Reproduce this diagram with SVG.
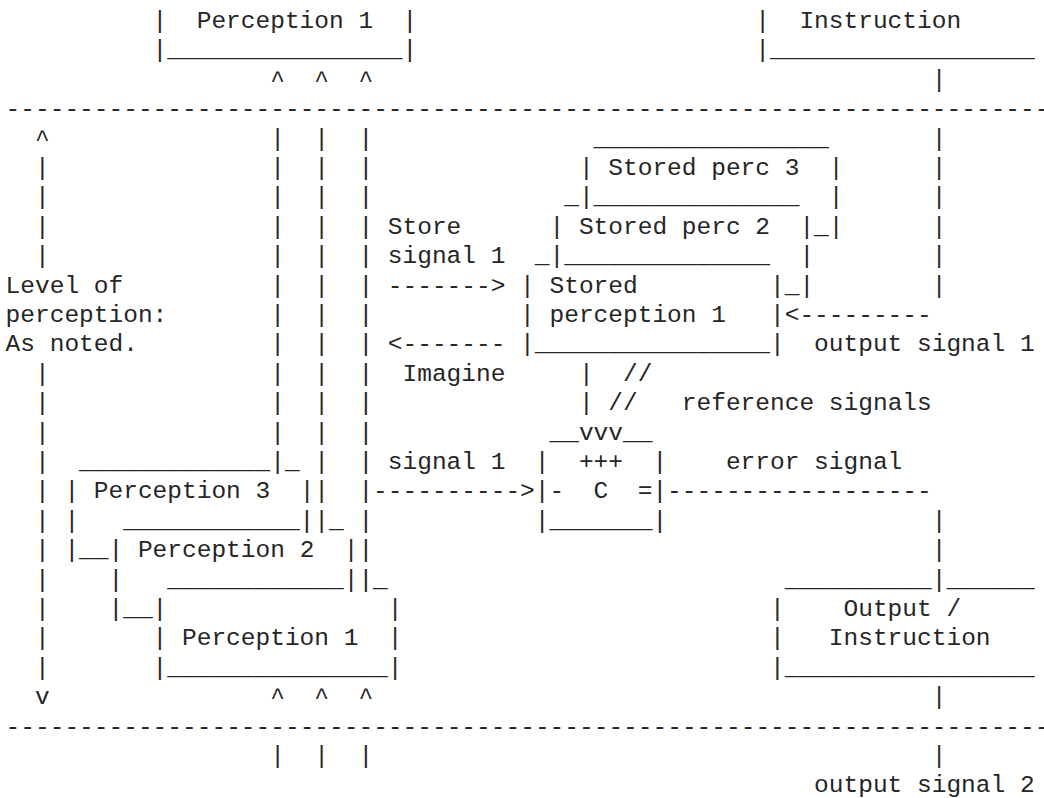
<svg xmlns="http://www.w3.org/2000/svg" width="1044" height="798" viewBox="0 0 1044 798" xml:space="preserve">
<style>
  /* monospace grid: column c at x = 5.6 + 14.7*c, row r baseline at y = 28 + 29.4*r */
  text { font-family: "Liberation Mono", "Courier New", "DejaVu Sans Mono", monospace; font-size: 24.5px; fill: #262626; white-space: pre; }
</style>
<rect width="1044" height="798" fill="#ffffff"/>

<!-- higher-level boxes above the upper level line -->
<g id="perception-1-upper">
  <text x="152.6" y="28">|  Perception 1  |</text>
  <text x="152.6" y="57.4">|________________|</text>
</g>
<g id="instruction-upper">
  <text x="755.3" y="28">|  Instruction</text>
  <text x="755.3" y="57.4">|__________________</text>
</g>

<!-- memory: stored perceptions -->
<g id="stored-perc-3">
  <text x="593.6" y="145.6">________________</text>
  <text x="578.9" y="175">| Stored perc 3  |</text>
  <text x="578.9" y="204.4">|______________  |</text>
  <text x="814.1" y="233.8">_|</text>
</g>
<g id="stored-perc-2">
  <text x="564.2" y="204.4">_</text>
  <text x="549.5" y="233.8">| Stored perc 2  |</text>
  <text x="549.5" y="263.2">|______________  |</text>
  <text x="784.7" y="292.6">_|</text>
</g>
<g id="stored-perception-1">
  <text x="534.8" y="263.2">_</text>
  <text x="520.1" y="292.6">| Stored         |</text>
  <text x="520.1" y="322">| perception 1   |</text>
  <text x="520.1" y="351.4">|________________|</text>
</g>

<!-- comparator -->
<g id="comparator">
  <text x="549.5" y="439.6">__vvv__</text>
  <text x="534.8" y="469">|  +++  |</text>
  <text x="534.8" y="498.4">|-  C  =|</text>
  <text x="534.8" y="527.8">|_______|</text>
</g>

<!-- stacked perception boxes of this level -->
<g id="perception-3">
  <text x="79.1" y="469">_____________</text>
  <text x="64.4" y="498.4">| Perception 3  |</text>
  <text x="64.4" y="527.8">|</text>
  <text x="299.6" y="527.8">|</text>
  <text x="64.4" y="557.2">|__</text>
</g>
<g id="perception-2">
  <text x="123.2" y="527.8">____________</text>
  <text x="108.5" y="557.2">| Perception 2  |</text>
  <text x="108.5" y="586.6">|</text>
  <text x="343.7" y="586.6">|</text>
  <text x="108.5" y="616">|__</text>
</g>
<g id="perception-1">
  <text x="167.3" y="586.6">____________</text>
  <text x="152.6" y="616">|</text>
  <text x="387.8" y="616">|</text>
  <text x="152.6" y="645.4">| Perception 1  |</text>
  <text x="152.6" y="674.8">|_______________|</text>
</g>

<!-- output function -->
<g id="output-instruction">
  <text x="784.7" y="586.6">__________|______</text>
  <text x="770" y="616">|    Output /</text>
  <text x="770" y="645.4">|   Instruction</text>
  <text x="770" y="674.8">|_________________</text>
</g>

<!-- level side label -->
<g id="level-label">
  <text x="35" y="145.6">^</text>
  <text x="35" y="175">|</text>
  <text x="35" y="204.4">|</text>
  <text x="35" y="233.8">|</text>
  <text x="35" y="263.2">|</text>
  <text x="5.6" y="292.6">Level of</text>
  <text x="5.6" y="322">perception:</text>
  <text x="5.6" y="351.4">As noted.</text>
  <text x="35" y="380.8">|</text>
  <text x="35" y="410.2">|</text>
  <text x="35" y="439.6">|</text>
  <text x="35" y="469">|</text>
  <text x="35" y="498.4">|</text>
  <text x="35" y="527.8">|</text>
  <text x="35" y="557.2">|</text>
  <text x="35" y="586.6">|</text>
  <text x="35" y="616">|</text>
  <text x="35" y="645.4">|</text>
  <text x="35" y="674.8">|</text>
  <text x="35" y="704.2">v</text>
</g>

<g id="connectors">
  <!-- level boundaries -->
  <text x="5.6" y="116.2">-----------------------------------------------------------------------</text>
  <text x="5.6" y="733.6">-----------------------------------------------------------------------</text>

  <!-- perceptual signals rising from the three perception boxes -->
  <text x="270.2" y="86.8">^  ^  ^</text>
  <text x="270.2" y="145.6">|  |  |</text>
  <text x="270.2" y="175">|  |  |</text>
  <text x="270.2" y="204.4">|  |  |</text>
  <text x="270.2" y="233.8">|  |  |</text>
  <text x="270.2" y="263.2">|  |  |</text>
  <text x="270.2" y="292.6">|  |  |</text>
  <text x="270.2" y="322">|  |  |</text>
  <text x="270.2" y="351.4">|  |  |</text>
  <text x="270.2" y="380.8">|  |  |</text>
  <text x="270.2" y="410.2">|  |  |</text>
  <text x="270.2" y="439.6">|  |  |</text>
  <text x="270.2" y="469">|_ |  |</text>
  <text x="314.3" y="498.4">|  |</text>
  <text x="314.3" y="527.8">|_ |</text>
  <text x="358.4" y="557.2">|</text>
  <text x="358.4" y="586.6">|_</text>

  <!-- inputs from the level below -->
  <text x="270.2" y="704.2">^  ^  ^</text>
  <text x="270.2" y="763">|  |  |</text>

  <!-- store / imagine paths -->
  <text x="387.8" y="233.8">Store</text>
  <text x="387.8" y="263.2">signal 1</text>
  <text x="387.8" y="292.6">-------&gt;</text>
  <text x="387.8" y="351.4">&lt;-------</text>
  <text x="402.5" y="380.8">Imagine</text>

  <!-- reference signals into the comparator -->
  <text x="578.9" y="380.8">|  //</text>
  <text x="578.9" y="410.2">| //   reference signals</text>

  <!-- perceptual signal into the comparator -->
  <text x="387.8" y="469">signal 1</text>
  <text x="373.1" y="498.4">----------&gt;</text>

  <!-- error signal to the output function -->
  <text x="725.9" y="469">error signal</text>
  <text x="667.1" y="498.4">------------------</text>
  <text x="931.7" y="527.8">|</text>
  <text x="931.7" y="557.2">|</text>

  <!-- output signal 1 from the higher level -->
  <text x="931.7" y="86.8">|</text>
  <text x="931.7" y="145.6">|</text>
  <text x="931.7" y="175">|</text>
  <text x="931.7" y="204.4">|</text>
  <text x="931.7" y="233.8">|</text>
  <text x="931.7" y="263.2">|</text>
  <text x="931.7" y="292.6">|</text>
  <text x="784.7" y="322">&lt;---------</text>
  <text x="814.1" y="351.4">output signal 1</text>

  <!-- output signal 2 to the level below -->
  <text x="931.7" y="704.2">|</text>
  <text x="931.7" y="763">|</text>
  <text x="814.1" y="792.4">output signal 2</text>
</g>
</svg>
